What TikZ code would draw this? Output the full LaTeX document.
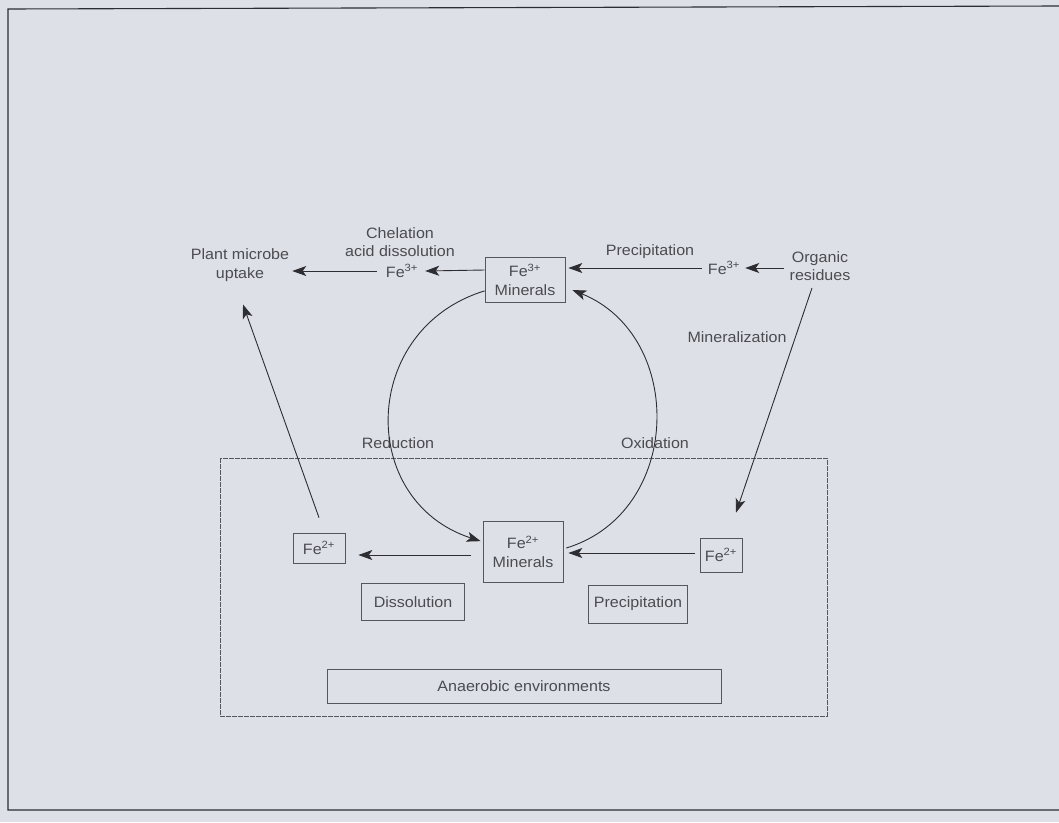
\documentclass[tikz,border=0pt]{standalone}
\usepackage{fontspec}
\setmainfont[FakeStretch=1.07]{Liberation Sans}
\usetikzlibrary{arrows.meta}
\definecolor{paper}{RGB}{221,225,231}
\definecolor{ink}{RGB}{45,45,50}
\definecolor{txt}{RGB}{75,75,80}
\begin{document}
\begin{tikzpicture}[x=1pt,y=1pt,
  lbl/.style={text=txt,font=\fontsize{15}{18.5}\selectfont,align=center,inner sep=1pt},
  bx/.style={lbl,draw=ink!80,line width=0.7pt,inner sep=2pt},
  arr/.style={draw=ink,line width=0.9pt,-{Stealth[length=14pt,width=10pt,inset=3.5pt]}},
  envbox/.style={draw=ink!80,line width=0.7pt,dash pattern=on 5pt off 1pt}]
\fill[paper] (0,0) rectangle (1059,-822);
\useasboundingbox (0,0) rectangle (1059,-822);
\draw[ink,line width=1.1pt] (1059,-6) -- (8,-9) -- (8,-810) -- (1059,-810);
% labels
\node[lbl] (up) at (240,-265) {Plant microbe\\uptake};
\node[lbl] (chel) at (400,-242) {Chelation\\acid dissolution};
\node[lbl] (fe3l) at (402,-271) {Fe\textsuperscript{3+}};
\node[bx,minimum width=80pt,minimum height=45pt] (tm) at (525,-280) {Fe\textsuperscript{3+}\\Minerals};
\node[lbl] (prec) at (650,-252) {Precipitation};
\node[lbl] (fe3r) at (724,-268) {Fe\textsuperscript{3+}};
\node[lbl] (org) at (820,-266) {Organic\\residues};
\node[lbl] (miner) at (737,-337) {Mineralization};
\node[lbl] (red) at (398,-443) {Reduction};
\node[lbl] (ox) at (655,-443) {Oxidation};
% anaerobic region
\draw[envbox] (220,-458) rectangle (827,-716);
\node[bx,minimum width=52pt,minimum height=30pt] (fe2l) at (319,-548) {Fe\textsuperscript{2+}};
\node[bx,minimum width=80pt,minimum height=61pt] (bm) at (523,-552) {Fe\textsuperscript{2+}\\Minerals};
\node[bx,minimum width=42pt,minimum height=34pt] (fe2r) at (721,-555) {Fe\textsuperscript{2+}};
\node[bx,minimum width=103pt,minimum height=37pt] (diss) at (413,-602) {Dissolution};
\node[bx,minimum width=99pt,minimum height=38pt] (precb) at (638,-604) {Precipitation};
\node[bx,minimum width=394pt,minimum height=34pt] (anae) at (524,-686) {Anaerobic environments};
% connectors
\draw[arr] (fe3l.west) ++(-8,0) -- ([xshift=2pt]up.east |- fe3l.west);
\draw[arr] ([yshift=10pt]tm.west) -- ([xshift=6pt]fe3l.east);
\draw[arr] ([xshift=-5pt]fe3r.west) -- ([xshift=3pt,yshift=12pt]tm.east);
\draw[arr] ([xshift=-4pt]org.west |- fe3r.east) -- ([xshift=4pt]fe3r.east);
\draw[arr] ([xshift=-8pt,yshift=-6pt]org.south) -- ([xshift=15pt,yshift=25pt]fe2r.north);
\draw[arr] ([yshift=15pt]fe2l.north) -- ([xshift=3pt,yshift=-22pt]up.south);
\draw[arr] ([xshift=-12pt,yshift=-3pt]bm.west) -- ([xshift=13pt,yshift=-7pt]fe2l.east);
\draw[arr] ([xshift=-5pt,yshift=2pt]fe2r.west) -- ([xshift=5pt,yshift=-1pt]bm.east);
% cycle
\draw[arr] ([yshift=12pt]tm.south west) to[out=197,in=162,looseness=1.33] ([xshift=-2pt,yshift=-20pt]bm.north west);
\draw[arr] ([xshift=3pt,yshift=4pt]bm.east) to[out=17,in=-22,looseness=1.21] ([xshift=7pt,yshift=-10pt]tm.east);
\end{tikzpicture}
\end{document}
